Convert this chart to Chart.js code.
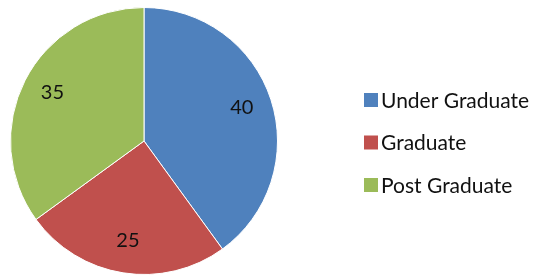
<!DOCTYPE html>
<html>
<head>
<meta charset="utf-8">
<script src="https://cdn.jsdelivr.net/npm/chart.js@4"></script>
<style>
  html, body { margin: 0; padding: 0; background: #fff; }
  #wrap { width: 537px; height: 277px; }
</style>
</head>
<body>
<div id="wrap"><canvas id="canvas" width="537" height="277"></canvas></div>
<script>
// chart data
var categories = ["Under Graduate", "Graduate", "Post Graduate"];
var studentCounts = [40, 25, 35];
var sliceColors = ["#4F81BD", "#C0504D", "#9BBB59"];

// numbers inside the slices
var sliceLabels = {
    id: 'sliceLabels',
    afterDatasetsDraw: function(chart) {
        var ctx = chart.ctx;
        var meta = chart.getDatasetMeta(0);
        ctx.save();
        ctx.font = '20px Lato, "Liberation Sans", sans-serif';
        ctx.fillStyle = '#111';
        ctx.textAlign = 'center';
        ctx.textBaseline = 'middle';
        meta.data.forEach(function(arc, i) {
            var p = arc.getProps(['x', 'y', 'startAngle', 'endAngle', 'outerRadius'], true);
            var mid = (p.startAngle + p.endAngle) / 2;
            var r = p.outerRadius * 0.77;
            ctx.fillText(chart.data.datasets[0].data[i], p.x + Math.cos(mid) * r, p.y + Math.sin(mid) * r - 2);
        });
        ctx.restore();
    }
};

// legend on the right, drawn from the labels and colours
var sideLegend = {
    id: 'sideLegend',
    afterDraw: function(chart) {
        var ctx = chart.ctx;
        var ds = chart.data.datasets[0];
        var x = 364, y = 100, gap = 42.5, box = 14;
        ctx.save();
        ctx.font = '21px Lato, "Liberation Sans", sans-serif';
        ctx.textBaseline = 'middle';
        chart.data.labels.forEach(function(label, i) {
            var cy = y + i * gap;
            ctx.fillStyle = ds.backgroundColor[i];
            ctx.fillRect(x, cy - box / 2, box, box);
            ctx.fillStyle = '#111';
            ctx.fillText(label, x + box + 3, cy + 1);
        });
        ctx.restore();
    }
};

window.onload = function() {
    var ctx = document.getElementById("canvas").getContext("2d");
    window.myPie = new Chart(ctx, {
        type: 'pie',
        data: {
            labels: categories,
            datasets: [{
                data: studentCounts,
                backgroundColor: sliceColors,
                borderColor: '#ffffff',
                borderWidth: 1
            }]
        },
        options: {
            responsive: false,
            animation: false,
            layout: { padding: { left: 10, top: 7, right: 259, bottom: 2 } },
            plugins: {
                legend: { display: false },
                tooltip: { enabled: false }
            }
        },
        plugins: [sliceLabels, sideLegend]
    });
};
</script>
</body>
</html>
